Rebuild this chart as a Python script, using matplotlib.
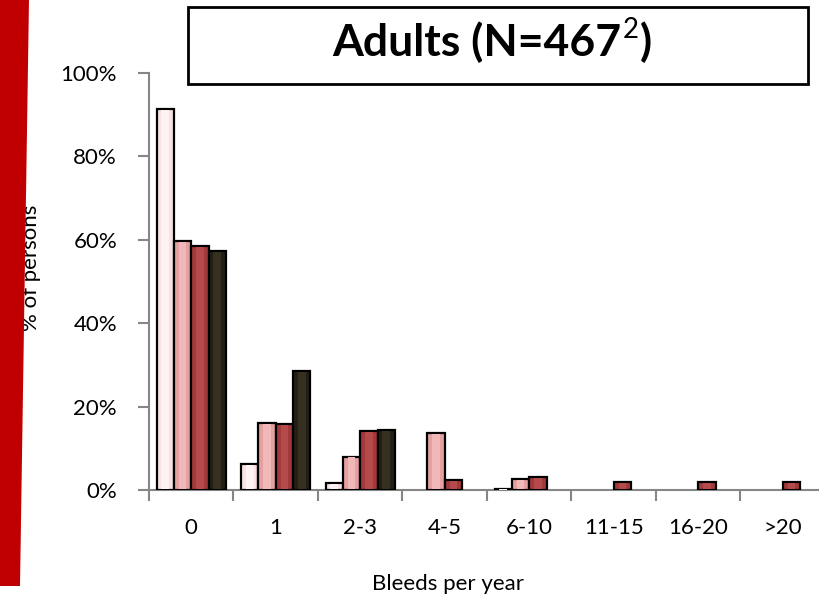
import numpy as np
import matplotlib.pyplot as plt
from matplotlib.patches import Polygon, Rectangle

plt.rcParams['font.family'] = ['Lato', 'DejaVu Sans']

categories = ["0", "1", "2-3", "4-5", "6-10", "11-15", "16-20", ">20"]
series_1 = [91.3, 6.2, 1.6, 0.0, 0.3, 0.0, 0.0, 0.0]
series_2 = [59.6, 16.1, 8.0, 13.6, 2.6, 0.0, 0.0, 0.0]
series_3 = [58.4, 15.8, 14.1, 2.4, 3.0, 1.8, 1.8, 1.8]
series_4 = [57.3, 28.6, 14.4, 0.0, 0.0, 0.0, 0.0, 0.0]
yticks = [0, 20, 40, 60, 80, 100]

colors = ['#FAE2E2', '#E5A0A0', '#A3393B', '#231F16']
shines = ['#FFF2F2', '#F0B8B8', '#B54A4C', '#35301F']
W, H = 820, 597

fig = plt.figure(figsize=(8.2, 5.97), dpi=100)
ax = fig.add_axes([149 / W, 107 / H, 676 / W, 417 / H])

x = np.arange(len(categories))
bw = 0.205
for i, vals in enumerate([series_1, series_2, series_3, series_4]):
    vals = np.array(vals)
    m = vals > 0
    ax.bar(x[m] + (i - 1.5) * bw, vals[m], width=bw, color=colors[i],
           edgecolor='black', linewidth=1.6, zorder=3)
    # lighter middle strip for the bevel look
    ax.bar(x[m] + (i - 1.5) * bw, vals[m] - 0.4, bottom=0.2, width=bw * 0.45,
           color=shines[i], linewidth=0, zorder=4)

ax.set_xlim(-0.5, len(categories) - 0.5)
ax.set_ylim(0, 100)
ax.set_yticks(yticks)
ax.set_yticklabels(["%d%%" % v for v in yticks])

ax.set_xticks(np.arange(len(categories) + 1) - 0.5)
ax.set_xticklabels([])
ax.set_xticks(x, minor=True)
ax.set_xticklabels(categories, minor=True)

gray = '#868686'
for s in ['top', 'right']:
    ax.spines[s].set_visible(False)
for s in ['left', 'bottom']:
    ax.spines[s].set_color(gray)
    ax.spines[s].set_linewidth(1.5)
ax.tick_params(axis='y', length=8, width=1.5, color=gray, pad=15, labelsize=16)
ax.tick_params(axis='x', which='major', length=8, width=1.5, color=gray)
ax.tick_params(axis='x', which='minor', length=0, pad=20, labelsize=16)

# y label sits under the red band
fig.text(31 / W, 1 - 268 / H, "% of persons", rotation=90, ha='center', va='center',
         fontsize=16)
fig.text(448 / W, 1 - 590 / H, "Bleeds per year", ha='center', va='baseline',
         fontsize=16)

# red band on the left
band = Polygon([(0, 1), (29 / W, 1), (20 / W, 1 - 586 / H), (0, 1 - 586 / H)],
               closed=True, transform=fig.transFigure, facecolor='#C00000',
               edgecolor='none', zorder=10)
fig.patches.append(band)

# title box
box = Rectangle((188 / W, 1 - 84 / H), (808 - 188) / W, 77 / H,
                transform=fig.transFigure, facecolor='white', edgecolor='black',
                linewidth=2)
fig.patches.append(box)

base = 1 - 56 / H
t1 = fig.text(332 / W, base, "Adults (N=467", fontsize=32, fontweight='bold',
              va='baseline')
r = fig.canvas.get_renderer()
bb = t1.get_window_extent(r)
t2 = fig.text(bb.x1 / W + 0.002, base + 18 / H, "2", fontsize=20, va='baseline')
bb2 = t2.get_window_extent(r)
fig.text(bb2.x1 / W + 0.001, base, ")", fontsize=32, fontweight='bold', va='baseline')

fig.savefig("out.png", dpi=100)
